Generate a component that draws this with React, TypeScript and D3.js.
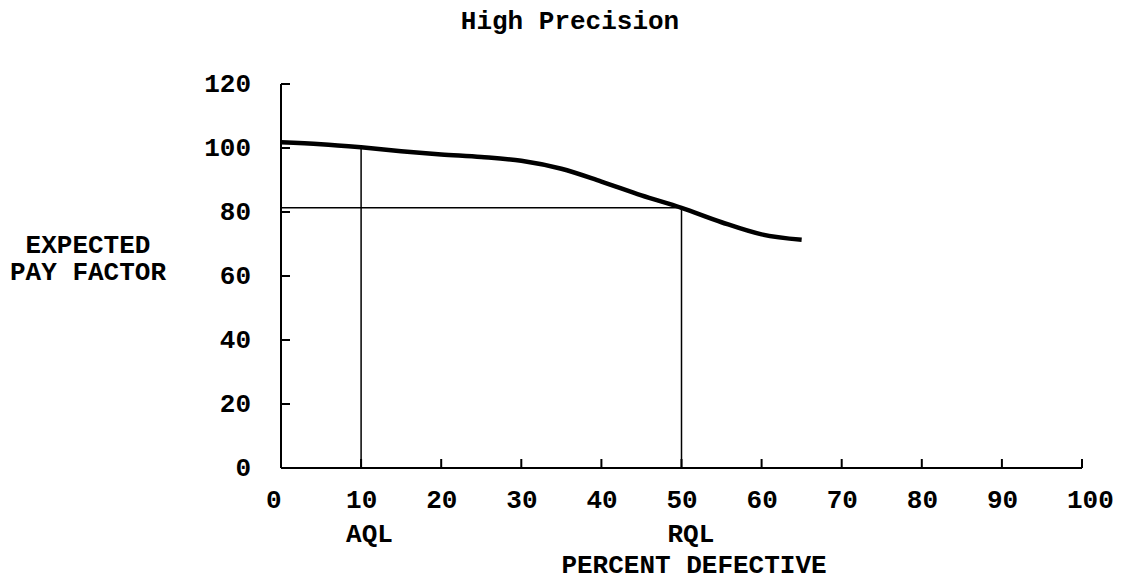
import React from "react";
import * as d3 from "d3";

const percentDefective = [0, 5, 10, 15, 20, 25, 30, 35, 40, 45, 50, 55, 60, 65];
const expectedPayFactor = [101.8, 101.2, 100.2, 99.0, 98.0, 97.2, 96.0, 93.5, 89.5, 85.2, 81.3, 76.8, 73.0, 71.3];
const xTicks = [0, 10, 20, 30, 40, 50, 60, 70, 80, 90, 100];
const yTicks = [0, 20, 40, 60, 80, 100, 120];
const aql = 10;
const rql = 50;
const aqlPay = 100.2;
const rqlPay = 81.3;

const W = 1123;
const H = 582;
const FONT = "'Liberation Mono', 'DejaVu Sans Mono', monospace";

export default function App() {
  const x = d3.scaleLinear().domain([0, 100]).range([281, 1082]);
  const y = d3.scaleLinear().domain([0, 120]).range([468, 84]);
  const pts: [number, number][] = percentDefective.map((d, i) => [d, expectedPayFactor[i]]);
  const line = d3
    .line<[number, number]>()
    .x((d) => x(d[0]))
    .y((d) => y(d[1]))
    .curve(d3.curveMonotoneX);

  const textStyle: React.CSSProperties = {
    fontFamily: FONT,
    fontWeight: "bold",
    fontSize: 26,
  };

  return (
    <svg
      width={W}
      height={H}
      style={{ position: "absolute", left: 0, top: 0, background: "#fff" }}
    >
      <rect x={0} y={0} width={W} height={H} fill="#fff" />
      <text x={570} y={29} textAnchor="middle" style={textStyle}>
        High Precision
      </text>

      {/* axes */}
      <line x1={x(0)} x2={x(0)} y1={y(0)} y2={y(120)} stroke="#000" strokeWidth={2} />
      <line x1={x(0)} x2={x(100)} y1={y(0)} y2={y(0)} stroke="#000" strokeWidth={2} />

      {xTicks.filter((t) => t > 0).map((t) => (
        <line key={"xt" + t} x1={x(t)} x2={x(t)} y1={y(0)} y2={y(0) - 9} stroke="#000" strokeWidth={2} />
      ))}
      {yTicks.filter((t) => t > 0).map((t) => (
        <line key={"yt" + t} x1={x(0)} x2={x(0) + 9} y1={y(t)} y2={y(t)} stroke="#000" strokeWidth={2} />
      ))}

      {xTicks.map((t) => (
        <text key={"xl" + t} x={x(t) - 15} y={508} textAnchor="start" style={textStyle}>
          {t}
        </text>
      ))}
      {yTicks.map((t) => (
        <text key={"yl" + t} x={251} y={y(t) + 7.5} textAnchor="end" style={textStyle}>
          {t}
        </text>
      ))}

      {/* reference lines */}
      <line x1={x(aql)} x2={x(aql)} y1={y(0)} y2={y(aqlPay)} stroke="#000" strokeWidth={1.5} />
      <line x1={x(rql)} x2={x(rql)} y1={y(0)} y2={y(rqlPay)} stroke="#000" strokeWidth={1.5} />
      <line x1={x(0)} x2={x(rql)} y1={y(rqlPay)} y2={y(rqlPay)} stroke="#000" strokeWidth={1.5} />

      <path d={line(pts) || ""} fill="none" stroke="#000" strokeWidth={4.5} />

      <text x={x(aql) - 15} y={542} textAnchor="start" style={textStyle}>AQL</text>
      <text x={x(rql) - 14} y={542} textAnchor="start" style={textStyle}>RQL</text>
      <text x={694} y={573} textAnchor="middle" style={textStyle}>PERCENT DEFECTIVE</text>

      <text x={88} y={253} textAnchor="middle" style={textStyle}>EXPECTED</text>
      <text x={88} y={280} textAnchor="middle" style={textStyle}>PAY FACTOR</text>
    </svg>
  );
}
